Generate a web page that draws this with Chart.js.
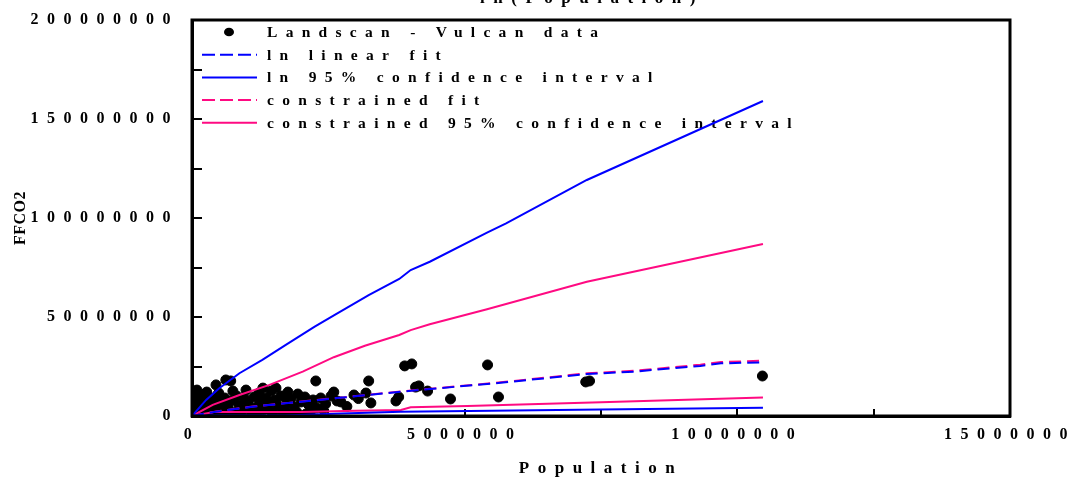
<!DOCTYPE html>
<html>
<head>
<meta charset="utf-8">
<script src="https://cdn.jsdelivr.net/npm/chart.js@4.4.0/dist/chart.umd.min.js"></script>
<style>
body { margin: 0; background: #fff; }
</style>
</head>
<body>
<canvas id="grafico" width="1072" height="480"></canvas>
<script>
// pontos Landscan - Vulcan (populacao, FFCO2)
var popLandscan = [
    3.90e6, 4.03e6, 5.42e6, 7.22e6, 7.29e6, 10.46e6, 4.16e6, 4.10e6, 4.32e6, 4.74e6,
    5.62e6, 3.24e6, 3.19e6, 2.97e6, 2.73e6, 3.28e6, 3.79e6, 3.74e6, 2.27e6, 2.60e6,
    1.94e6, 1.76e6, 1.54e6, 1.30e6, 1.69e6, 0.62e6, 0.71e6, 0.44e6, 0.07e6, 0.16e6,
    0.02e6, 0.01e6, 0.04e6, 0.05e6, 0.09e6, 0.13e6, 0.15e6, 0.20e6, 0.24e6, 0.27e6,
    0.31e6, 0.37e6, 0.40e6, 0.45e6, 0.48e6, 0.53e6, 0.57e6, 0.60e6, 0.66e6, 0.71e6,
    0.77e6, 0.82e6, 0.86e6, 0.92e6, 0.97e6, 1.03e6, 1.08e6, 1.14e6, 1.19e6, 1.25e6,
    1.31e6, 1.36e6, 1.41e6, 1.47e6, 1.52e6, 1.58e6, 1.63e6, 1.69e6, 1.74e6, 1.81e6,
    1.87e6, 1.92e6, 2.00e6, 2.07e6, 2.14e6, 2.22e6, 2.29e6, 2.36e6, 2.45e6, 2.55e6,
    2.66e6, 0.27e6, 0.49e6, 0.75e6, 0.99e6, 1.23e6, 1.45e6, 0.09e6, 0.16e6, 0.35e6,
    0.60e6, 0.90e6, 1.19e6, 1.48e6, 1.78e6, 2.09e6, 0.03e6, 0.06e6, 0.02e6, 0.11e6,
    0.33e6, 0.68e6, 1.05e6, 1.38e6, 1.66e6, 2.18e6, 2.40e6, 2.84e6, 3.05e6
]
var ffco2Landscan = [
    25.3e6, 26.3e6, 25.8e6, 17.2e6, 17.7e6, 20.2e6, 15.2e6, 14.6e6, 12.6e6, 8.6e6,
    9.6e6, 17.7e6, 11.6e6, 10.6e6, 7.1e6, 6.6e6, 9.6e6, 7.6e6, 17.7e6, 12.1e6,
    11.1e6, 12.1e6, 14.1e6, 14.1e6, 10.1e6, 18.2e6, 17.7e6, 15.7e6, 10.6e6, 10.6e6,
    9.6e6, 2.0e6, 4.0e6, 6.6e6, 1.0e6, 8.1e6, 3.0e6, 5.6e6, 1.5e6, 8.6e6,
    4.0e6, 7.1e6, 1.0e6, 10.1e6, 3.5e6, 6.1e6, 2.0e6, 9.1e6, 4.5e6, 7.6e6,
    1.5e6, 10.1e6, 5.6e6, 3.0e6, 8.6e6, 6.6e6, 2.0e6, 9.6e6, 4.5e6, 7.6e6,
    3.0e6, 9.1e6, 6.1e6, 2.0e6, 8.1e6, 5.1e6, 10.1e6, 3.5e6, 6.6e6, 8.6e6,
    4.5e6, 2.0e6, 7.1e6, 9.6e6, 5.6e6, 8.1e6, 4.0e6, 9.1e6, 6.1e6, 10.1e6,
    7.6e6, 12.1e6, 11.6e6, 12.6e6, 13.1e6, 11.6e6, 12.6e6, 13.1e6, 0.1e6, 0.2e6,
    0.1e6, 0.2e6, 0.5e6, 0.5e6, 1.0e6, 1.0e6, 7.8e6, 5.2e6, 11.9e6, 3.8e6,
    5.4e6, 2.8e6, 4.2e6, 3.6e6, 1.8e6, 2.6e6, 3.4e6, 4.8e6, 8.8e6
]

// ln linear fit
var popLnFit = [0, 0.44e6, 1.11e6, 1.72e6, 2.33e6, 2.76e6, 3.83e6, 5.66e6, 7.25e6, 8.1e6, 9.32e6, 9.7e6, 10.47e6]
var ffco2LnFit = [0, 2.2e6, 4.7e6, 6.4e6, 8.1e6, 9.3e6, 12.3e6, 16.8e6, 21.2e6, 22.4e6, 25.3e6, 26.6e6, 27.1e6]

// ln 95% confidence interval (superior e inferior)
var popLnUpper = [0, 0.26e6, 0.5e6, 0.87e6, 1.29e6, 1.72e6, 2.25e6, 2.61e6, 3.24e6, 3.8e6, 4.01e6, 4.36e6, 5.41e6, 5.76e6, 7.24e6, 10.47e6]
var ffco2LnUpper = [0, 8.1e6, 14e6, 21.6e6, 28.3e6, 35.9e6, 45.1e6, 51e6, 61.1e6, 69.2e6, 73.7e6, 77.9e6, 92.6e6, 97.3e6, 119.2e6, 159.1e6]
var popLnLower = [0, 0.5e6, 1.7e6, 2.75e6, 3.83e6, 5.5e6, 7.5e6, 10.47e6]
var ffco2LnLower = [0, 0.2e6, 0.3e6, 1.3e6, 2.2e6, 2.7e6, 3.3e6, 4.2e6]

// constrained fit
var popConFit = [0, 0.44e6, 1.11e6, 1.72e6, 2.33e6, 2.76e6, 3.83e6, 5.66e6, 7.25e6, 8.1e6, 9.32e6, 9.7e6, 10.47e6]
var ffco2ConFit = [0, 2.3e6, 4.8e6, 6.5e6, 8.2e6, 9.4e6, 12.4e6, 17.0e6, 21.6e6, 22.8e6, 25.9e6, 27.3e6, 27.9e6]

// constrained 95% confidence interval
var popConUpper = [0, 0.38e6, 0.87e6, 1.42e6, 2.03e6, 2.6e6, 3.17e6, 3.8e6, 4.01e6, 4.36e6, 5.41e6, 7.24e6, 10.47e6]
var ffco2ConUpper = [0, 5.6e6, 10.6e6, 15.7e6, 22.4e6, 29.7e6, 35.5e6, 40.9e6, 43.4e6, 46.3e6, 53.9e6, 67.8e6, 86.9e6]
var popConLower = [0, 0.4e6, 2.0e6, 3.0e6, 3.83e6, 4.01e6, 5.05e6, 7.5e6, 10.47e6]
var ffco2ConLower = [0, 2.0e6, 2.0e6, 2.6e6, 3.0e6, 4.4e6, 5.0e6, 7.0e6, 9.3e6]

var azul = '#0000ff'
var rosa = '#ff0a82'
var fonte = '"Liberation Serif", "Times New Roman", serif'

function pares(xs, ys) {
    var lista = []
    for (var i = 0; i < xs.length; i++) {
        lista.push({x: xs[i], y: ys[i]})
    }
    return lista
}

function linha(label, xs, ys, cor, tracejado, legenda) {
    return {
        label: label,
        data: pares(xs, ys),
        showLine: true,
        borderColor: cor,
        backgroundColor: cor,
        borderWidth: 2,
        borderDash: tracejado ? [12, 6] : [],
        pointRadius: 0,
        tension: 0,
        order: 1,
        emLegenda: legenda,
        tracejado: tracejado
    }
}

var datasets = [
    {
        label: 'Landscan - Vulcan data',
        data: pares(popLandscan, ffco2Landscan),
        backgroundColor: 'black',
        borderColor: 'black',
        pointRadius: 5,
        pointHoverRadius: 5,
        order: 10,
        emLegenda: true,
        ponto: true
    },
    linha('ln linear fit', popLnFit, ffco2LnFit, azul, true, true),
    linha('ln 95% confidence interval', popLnUpper, ffco2LnUpper, azul, false, true),
    linha('ln 95% confidence interval', popLnLower, ffco2LnLower, azul, false, false),
    linha('constrained fit', popConFit, ffco2ConFit, rosa, true, true),
    linha('constrained 95% confidence interval', popConUpper, ffco2ConUpper, rosa, false, true),
    linha('constrained 95% confidence interval', popConLower, ffco2ConLower, rosa, false, false)
]

//legenda desenhada dentro da area do grafico
function desenhaLegenda(chart) {
    var ctx = chart.ctx
    var area = chart.chartArea
    var linhaY = area.top + 12
    ctx.save()
    ctx.letterSpacing = '8.3px'
    ctx.font = 'bold 15.5px ' + fonte
    ctx.textBaseline = 'middle'
    ctx.textAlign = 'left'
    for (var ds of chart.data.datasets) {
        if (!ds.emLegenda) continue
        if (ds.ponto) {
            ctx.fillStyle = 'black'
            ctx.beginPath()
            ctx.ellipse(area.left + 37, linhaY, 5, 4.3, 0, 0, Math.PI * 2)
            ctx.fill()
        } else {
            ctx.strokeStyle = ds.borderColor
            ctx.lineWidth = 2
            ctx.setLineDash(ds.tracejado ? [13, 5] : [])
            ctx.beginPath()
            ctx.moveTo(area.left + 10, linhaY)
            ctx.lineTo(area.left + 65, linhaY)
            ctx.stroke()
            ctx.setLineDash([])
        }
        ctx.fillStyle = 'black'
        ctx.fillText(ds.label, area.left + 75, linhaY + 1)
        linhaY += 22.7
    }
    ctx.restore()
}

var estilo = {
    id: 'estilo',
    beforeLayout: function(chart) { chart.ctx.letterSpacing = '8.5px' },
    beforeDraw: function(chart) { chart.ctx.letterSpacing = '8.5px' },
    beforeDatasetsDraw: function(chart) { desenhaLegenda(chart) },
    afterDraw: function(chart) {
        var ctx = chart.ctx
        var area = chart.chartArea
        ctx.save()
        //moldura
        ctx.strokeStyle = 'black'
        ctx.lineWidth = 3
        ctx.strokeRect(area.left, area.top, area.right - area.left, area.bottom - area.top)

        //titulo do eixo y
        ctx.letterSpacing = '0.5px'
        ctx.font = 'bold 16px ' + fonte
        ctx.fillStyle = 'black'
        ctx.textAlign = 'center'
        ctx.textBaseline = 'middle'
        ctx.translate(21, (area.top + area.bottom) / 2)
        ctx.rotate(-Math.PI / 2)
        ctx.fillText('FFCO2', 0, 0)
        ctx.restore()

        //titulo cortado no topo
        ctx.save()
        ctx.letterSpacing = '8.5px'
        ctx.font = 'bold 17px ' + fonte
        ctx.fillStyle = 'black'
        ctx.textAlign = 'center'
        ctx.textBaseline = 'alphabetic'
        ctx.fillText('ln(Population)', 592, 3)
        ctx.restore()
    }
}

var ctx = document.getElementById('grafico')
var chart = new Chart(ctx, {
    type: 'scatter',
    data: { datasets: datasets },
    options: {
        responsive: false,
        animation: false,
        layout: { padding: { top: 20, left: 0, right: 0, bottom: 0 } },
        plugins: {
            legend: { display: false },
            tooltip: { enabled: false }
        },
        scales: {
            x: {
                type: 'linear',
                min: 0,
                max: 15000000,
                grid: { drawOnChartArea: false, color: 'black', lineWidth: 2, tickLength: -7 },
                border: { color: 'black', width: 3 },
                ticks: {
                    stepSize: 2500000,
                    autoSkip: false,
                    maxRotation: 0,
                    padding: 16,
                    color: 'black',
                    font: { family: fonte, size: 16, weight: 'bold' },
                    callback: function(v) { return v % 5000000 === 0 ? String(v) : '' }
                },
                title: {
                    display: true,
                    text: 'Population',
                    color: 'black',
                    font: { family: fonte, size: 17, weight: 'bold' },
                    padding: { top: 0, bottom: 1 }
                },
                afterFit: function(s) { s.height = 64; s.paddingRight = 62 }
            },
            y: {
                type: 'linear',
                min: 0,
                max: 200000000,
                grid: { drawOnChartArea: false, color: 'black', lineWidth: 2, tickLength: -10 },
                border: { color: 'black', width: 3 },
                ticks: {
                    stepSize: 25000000,
                    autoSkip: false,
                    padding: 23,
                    color: 'black',
                    font: { family: fonte, size: 16, weight: 'bold' },
                    callback: function(v) { return v % 50000000 === 0 ? String(v) : '' }
                },
                afterFit: function(s) { s.width = 192; s.paddingTop = 0; s.paddingBottom = 0 }
            }
        }
    },
    plugins: [estilo]
})
</script>
</body>
</html>
